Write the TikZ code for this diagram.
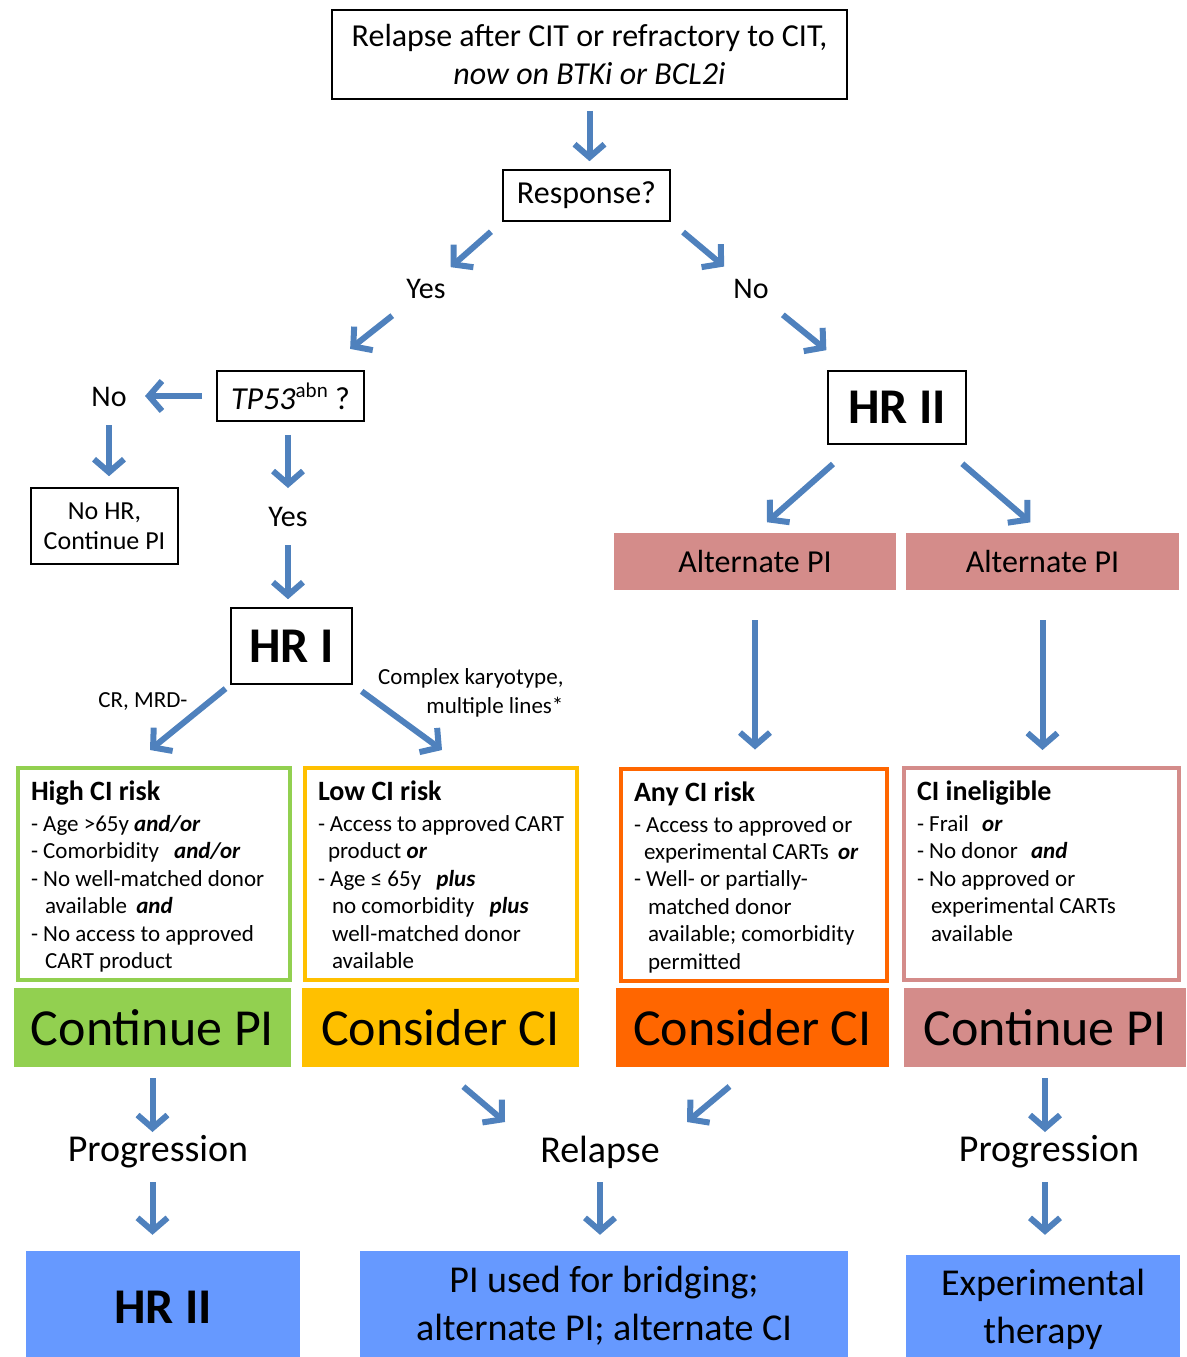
\documentclass[tikz,border=0pt]{standalone}
\usepackage{fontspec}
\setmainfont{Carlito}
\usetikzlibrary{arrows.meta}

\definecolor{arrowblue}{RGB}{79,129,189}
\definecolor{pigreen}{RGB}{146,208,80}
\definecolor{ciyellow}{RGB}{255,192,0}
\definecolor{ciorange}{RGB}{255,102,0}
\definecolor{pirose}{RGB}{212,140,138}
\definecolor{outblue}{RGB}{102,153,255}

\newcommand{\fs}[2]{\fontsize{#1}{#2}\selectfont}
\newcommand{\conj}[1]{\textbf{\textit{#1}}}
\newcommand{\critpage}[3]{\begin{minipage}[c][186pt][t]{#1}\raggedright\setlength{\parindent}{0pt}{\fs{28}{31}\bfseries #2\par}\vspace{3.5pt}#3\end{minipage}}
\newcommand{\ind}{\hspace*{14pt}}

\begin{document}
\begin{tikzpicture}[x=1pt,y=-1pt,
	box/.style={draw, line width=1.6pt, inner sep=0pt, align=center},
	lbl/.style={font=\fs{30}{36}},
	crit/.style={draw=#1, line width=4pt, inner sep=13pt, font=\fs{23}{27.4}},
	act/.style={fill=#1, inner sep=0pt, minimum height=79pt, font=\fs{52}{60}},
	outbox/.style={fill=outblue, inner sep=0pt, align=center, font=\fs{38}{48}},
	flow/.style={draw=arrowblue, line width=6pt, -{Straight Barb[length=13pt,width=30pt]}}]
	\useasboundingbox (0,0) rectangle (1186,1357);

	\node[box, minimum width=515pt, minimum height=89pt, font=\fs{32}{38}] (top) at (589.5,54.5) {Relapse after CIT or refractory to CIT,\\ \textit{now on BTKi or BCL2i}};
	\node[box, minimum width=167pt, minimum height=51pt, font=\fs{32}{38}] (resp) at (586.5,195.5) {Response?};
	\node[lbl] (yes1) at (426,289) {Yes};
	\node[lbl] (no1) at (751,289) {No};
	\node[box, minimum width=147pt, minimum height=50pt, font=\fs{32}{38}] (tp53) at (290.5,396) {\textit{TP53}\raisebox{0.38em}{\fs{21}{21}abn} ?};
	\node[lbl] (no2) at (109,397) {No};
	\node[box, minimum width=147pt, minimum height=76pt, font=\fs{26}{30}] (nohr) at (104.5,526) {No HR,\\ Continue PI};
	\node[lbl] (yes2) at (288,517) {Yes};
	\node[box, minimum width=121pt, minimum height=76pt, font=\fs{50}{56}\bfseries] (hr1) at (291.5,646) {HR I};
	\node[box, minimum width=138pt, minimum height=73pt, font=\fs{50}{56}\bfseries] (hr2) at (897,407.5) {HR II};
	\node[font=\fs{23}{29}] (crmrd) at (143,701) {CR, MRD-};
	\node[font=\fs{23}{29}, align=right, anchor=east] (cklines) at (567,692.5) {Complex karyotype,\\ multiple lines*};
	\coordinate (cr) at (150,750);
	\coordinate (ck) at (442,750);

	\node[fill=pirose, inner sep=0pt, minimum width=282pt, minimum height=57pt, font=\fs{32}{38}] (alt1) at (755,561.5) {Alternate PI};
	\node[fill=pirose, inner sep=0pt, minimum width=273pt, minimum height=57pt, font=\fs{32}{38}] (alt2) at (1042.5,561.5) {Alternate PI};

	\node[crit=pigreen] (crit1) at (154,874) {\critpage{246pt}{High CI risk}{%
		- Age >65y \conj{and/or}\\
		- Comorbidity\hspace{10pt} \conj{and/or}\\
		- No well-matched donor\\
		\ind available\hspace{4pt} \conj{and}\\
		- No access to approved\\
		\ind CART product}};
	\node[crit=ciyellow] (crit2) at (441,874) {\critpage{246pt}{Low CI risk}{%
		- Access to approved CART\\
		\hspace*{10pt}product \conj{or}\\
		- Age ≤ 65y\hspace{10pt} \conj{plus}\\
		\ind no comorbidity\hspace{10pt} \conj{plus}\\
		\ind well-matched donor\\
		\ind available}};
	\node[crit=ciorange] (crit3) at (754,874.5) {\critpage{240pt}{Any CI risk}{%
		- Access to approved or\\
		\hspace*{10pt}experimental CARTs\hspace{4pt} \conj{or}\\
		- Well- or partially-\\
		\ind matched donor\\
		\ind available; comorbidity\\
		\ind permitted}};
	\node[crit=pirose] (crit4) at (1041.5,874) {\critpage{249pt}{CI ineligible}{%
		- Frail\hspace{8pt} \conj{or}\\
		- No donor\hspace{8pt} \conj{and}\\
		- No approved or\\
		\ind experimental CARTs\\
		\ind available}};

	\node[act=pigreen, minimum width=277pt] (act1) at (152.5,1027.5) {Continue PI};
	\node[act=ciyellow, minimum width=277pt] (act2) at (440.5,1027.5) {Consider CI};
	\node[act=ciorange, minimum width=273pt] (act3) at (752.5,1027.5) {Consider CI};
	\node[act=pirose, minimum width=282pt] (act4) at (1045,1027.5) {Continue PI};

	\node[font=\fs{38}{46}] (prog1) at (158,1152) {Progression};
	\node[font=\fs{38}{46}] (relapse) at (600,1152) {Relapse};
	\node[font=\fs{38}{46}] (prog2) at (1049,1152) {Progression};
	\coordinate (rl) at (505,1122);
	\coordinate (rr) at (687,1122);

	\node[outbox, minimum width=274pt, minimum height=112pt, font=\fs{50}{56}\bfseries] (out1) at (163,1307) {HR II};
	\node[outbox, minimum width=488pt, minimum height=110pt] (out2) at (604,1306) {PI used for bridging;\\ alternate PI; alternate CI};
	\node[outbox, minimum width=274pt, minimum height=108pt] (out3) at (1043,1309) {Experimental\\ therapy};

	\draw[flow, shorten <=11pt, shorten >=8pt] (top.south) -- (top.south |- resp.north);
	\draw[flow, shorten <=15pt, shorten >=33pt] (resp.south west) -- (yes1.center);
	\draw[flow, shorten <=43pt, shorten >=76pt] (yes1.center) -- (tp53.center);
	\draw[flow, shorten <=16pt, shorten >=35pt] (resp.south east) -- (no1.center);
	\draw[flow, shorten <=41pt, shorten >=91pt] (no1.center) -- (hr2.center);
	\draw[flow, shorten <=14pt, shorten >=36pt] (tp53.west) -- (tp53.west -| no2.center);
	\draw[flow, shorten <=28pt, shorten >=11pt] (no2.center) -- (no2.center |- nohr.north);
	\draw[flow, shorten <=13pt, shorten >=29pt] (yes2.center |- tp53.south) -- (yes2.center);
	\draw[flow, shorten <=28pt, shorten >=8pt] (yes2.center) -- (yes2.center |- hr1.north);
	\draw[flow, shorten <=6pt] (hr1.south west) -- (cr);
	\draw[flow, shorten <=11pt] (hr1.south east) -- (ck);
	\draw[flow, shorten <=29pt, shorten >=16pt] (hr2) -- (alt1.north);
	\draw[flow, shorten <=29pt, shorten >=16pt] (hr2) -- (alt2.north);
	\draw[flow, shorten <=30pt, shorten >=17pt] (alt1.south) -- (alt1.south |- crit3.north);
	\draw[flow, shorten <=30pt, shorten >=16pt] (alt2.south) -- (alt2.south |- crit4.north);
	\draw[flow, shorten <=11pt, shorten >=20pt] (act1.south) -- (act1.south |- prog1.center);
	\draw[flow, shorten <=30pt, shorten >=16pt] (act1.south |- prog1.center) -- (act1.south |- out1.north);
	\draw[flow, shorten <=30pt] (act2.south) -- (rl);
	\draw[flow, shorten <=30pt] (act3.south) -- (rr);
	\draw[flow, shorten <=30pt, shorten >=16pt] (relapse.center) -- (relapse.center |- out2.north);
	\draw[flow, shorten <=11pt, shorten >=20pt] (act4.south) -- (act4.south |- prog2.center);
	\draw[flow, shorten <=30pt, shorten >=20pt] (act4.south |- prog2.center) -- (act4.south |- out3.north);
\end{tikzpicture}
\end{document}
